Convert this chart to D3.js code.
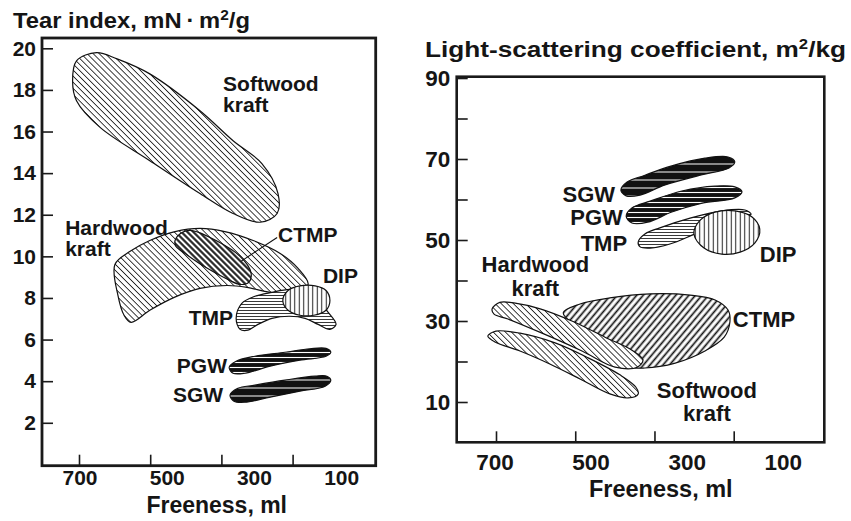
<!DOCTYPE html>
<html>
<head>
<meta charset="utf-8">
<script src="https://cdn.jsdelivr.net/npm/d3@7"></script>
<style>
  body { margin: 0; background: #fff; }
  text { font-family: "Liberation Sans", Arial, Helvetica, sans-serif; font-weight: bold; fill: #151515; }
</style>
</head>
<body>
<svg width="851" height="521"></svg>
<script>
// Axis ticks
const freenessTicks = [700, 500, 300, 100];
const tearTicks = [2, 4, 6, 8, 10, 12, 14, 16, 18, 20];
const scatterTicks = [10, 20, 30, 40, 50, 60, 70, 80, 90];
const scatterLabelled = [10, 30, 50, 70, 90];

// Left panel regions: [freeness ml, tear index mN·m2/g]
const tearSoftwood = [[662,19.79],[615,19.49],[540,18.77],[425,17.0],[349,15.56],[283,14.46],[246,13.02],[248,12.06],
  [287,11.64],[349,12.06],[425,13.02],[540,14.6],[654,16.2],[708,17.48],[717,18.44],[708,19.4]];
const tearHardwood = [[620,9.61],[585,10.24],[540,10.76],[482,11.19],[425,11.34],[368,11.19],[303,10.76],[241,10.14],
  [200,9.42],[177,8.65],[207,8.27],[264,8.27],[317,8.51],[363,8.60],[425,8.46],[484,8.03],[540,7.41],[583,6.83],[599,7.17],[613,8.12]];
const tearCTMP = [[482,10.76],[466,11.15],[443,11.24],[388,10.76],[333,10.0],[308,9.23],[313,8.75],[333,8.65],
  [361,8.89],[416,9.52],[466,10.24],[480,10.47]];
const tearCTMPLeader = [[248,10.91],[331,9.76]];
const tearTMP = [[342,7.02],[329,7.74],[299,8.08],[260,8.27],[219,8.41],[184,8.36],[154,7.88],[131,7.31],[113,6.73],
  [127,6.49],[154,6.73],[184,7.02],[219,7.12],[260,7.02],[292,6.73],[315,6.45],[333,6.49]];
const tearDIP = [[235,7.88],[223,8.36],[196,8.58],[161,8.58],[136,8.36],[127,7.88],[136,7.41],[164,7.17],[196,7.17],[223,7.41]];
const tearPGW = [[358,4.67],[342,4.96],[299,5.20],[230,5.39],[173,5.56],[136,5.58],[125,5.39],[136,5.20],[196,5.01],
  [264,4.72],[322,4.38],[349,4.38]];
const tearSGW = [[356,3.33],[338,3.66],[299,3.81],[230,4.05],[161,4.24],[134,4.24],[125,4.05],[138,3.76],[196,3.52],
  [264,3.23],[322,2.99],[347,3.04]];

// Right panel regions: [freeness ml, light-scattering m2/kg]
const scatSGW = [[438,62.3],[425,64.3],[388,66.0],[332,68.3],[263,70.2],[215,70.5],[201,69.3],[213,67.8],[273,66.0],
  [346,63.6],[398,61.1],[427,60.9]];
const scatPGW = [[427,55.9],[415,57.9],[377,59.6],[311,62.1],[242,63.3],[201,63.1],[186,61.9],[201,60.4],[269,59.1],
  [332,56.9],[382,54.4],[415,54.2]];
const scatTMP = [[402,49.5],[388,51.5],[357,53.0],[294,55.4],[228,57.2],[180,57.4],[167,56.4],[190,55.4],[273,52.0],
  [336,49.0],[377,48.0],[398,48.3]];
const scatDIP = [[286,51.5],[273,54.9],[242,56.9],[201,57.2],[165,55.7],[149,52.7],[159,49.3],[190,47.0],[228,46.5],[265,48.0]];
const scatCTMP = [[558,32.0],[523,34.2],[461,35.7],[377,36.7],[294,36.4],[242,35.2],[215,32.7],[211,29.8],[223,26.0],
  [263,22.6],[325,19.6],[388,18.4],[440,18.9],[481,22.8],[523,27.8]];
const scatHardwood = [[706,33.0],[690,34.6],[658,34.4],[606,33.0],[540,30.0],[471,26.0],[415,22.8],[392,20.4],[404,18.6],
  [450,18.6],[519,22.6],[602,27.0],[673,30.5],[702,31.7]];
const scatSoftwood = [[715,26.3],[698,27.5],[648,27.0],[575,24.6],[506,20.9],[440,16.7],[407,13.7],[402,12.0],[423,11.0],
  [461,12.0],[523,15.7],[586,19.4],[648,22.6],[700,24.8]];

// Region labels: [text lines, freeness, value, anchor]
const tearLabels = [
  [["Softwood", "kraft"], 372, 17.95, "start"],
  [["Hardwood", "kraft"], 734, 11.05, "start"],
  [["CTMP"], 246, 10.67, "start"],
  [["DIP"], 143, 8.70, "start"],
  [["TMP"], 349, 6.69, "end"],
  [["PGW"], 363, 4.40, "end"],
  [["SGW"], 372, 3.02, "end"]
];
const scatLabels = [
  [["SGW"], 450, 59.3, "end"],
  [["PGW"], 434, 53.6, "end"],
  [["TMP"], 425, 47.4, "end"],
  [["DIP"], 149, 44.6, "start"],
  [["Hardwood", "kraft"], 616, 42.0, "middle"],
  [["CTMP"], 205, 28.5, "start"],
  [["Softwood", "kraft"], 259, 11.1, "middle"]
];

const svg = d3.select("svg");
const defs = svg.append("defs");

function hatch(id, size, angle, sw, bg, fg) {
  const p = defs.append("pattern")
    .attr("id", id)
    .attr("patternUnits", "userSpaceOnUse")
    .attr("width", size).attr("height", size)
    .attr("patternTransform", `rotate(${angle})`);
  p.append("rect").attr("width", size).attr("height", size).attr("fill", bg);
  p.append("line")
    .attr("x1", size / 2).attr("x2", size / 2)
    .attr("y1", 0).attr("y2", size)
    .attr("stroke", fg).attr("stroke-width", sw);
}
hatch("back", 4.3, -45, 0.9, "#fff", "#222");     // "\" thin
hatch("backBold", 4.2, -45, 2.0, "#fff", "#111"); // "\" bold (CTMP left)
hatch("fwdBold", 5.0, 40, 1.7, "#fff", "#111");   // "/" bold (CTMP right)
hatch("horiz", 3.0, 90, 0.9, "#fff", "#222");
hatch("vert", 4.5, 0, 1.0, "#fff", "#222");
hatch("pgwFill", 5.0, 90, 1.1, "#111", "#fff");
hatch("sgwFill", 8.0, 90, 1.0, "#111", "#fff");

function panel(cfg) {
  const g = svg.append("g");
  const line = d3.line()
    .x(d => cfg.x(d[0]))
    .y(d => cfg.y(d[1]))
    .curve(d3.curveCatmullRomClosed.alpha(0.5));

  // regions
  cfg.regions.forEach(([pts, fill]) => {
    g.append("path")
      .datum(pts)
      .attr("d", line)
      .attr("fill", `url(#${fill})`)
      .attr("stroke", "#111")
      .attr("stroke-width", 1.2);
  });

  if (cfg.leader) {
    g.append("path")
      .datum(cfg.leader)
      .attr("d", d3.line().x(d => cfg.x(d[0])).y(d => cfg.y(d[1])))
      .attr("stroke", "#111").attr("stroke-width", 1.1).attr("fill", "none");
  }

  // region labels, one text per line
  cfg.labels.forEach(([lines, fx, v, anchor]) => {
    lines.forEach((s, i) => {
      g.append("text")
        .attr("x", cfg.x(fx))
        .attr("y", cfg.y(v) + i * cfg.lineGap)
        .attr("text-anchor", anchor)
        .style("font-size", cfg.labelSize + "px")
        .text(s);
    });
  });

  // frame
  g.append("rect")
    .attr("x", cfg.box[0]).attr("y", cfg.box[1])
    .attr("width", cfg.box[2] - cfg.box[0]).attr("height", cfg.box[3] - cfg.box[1])
    .attr("fill", "none").attr("stroke", "#1a1a1a").attr("stroke-width", cfg.frameWidth);

  // y axis, ticks pointing inward
  const ya = g.append("g")
    .attr("transform", `translate(${cfg.box[0]},0)`)
    .call(d3.axisLeft(cfg.y).tickValues(cfg.yTicks).tickSizeInner(-11).tickSizeOuter(0).tickPadding(cfg.yPad)
      .tickFormat(cfg.yFormat));
  ya.select(".domain").remove();
  ya.selectAll("line").attr("stroke", "#1a1a1a").attr("stroke-width", 1.6);
  ya.selectAll("text").style("font-size", cfg.tickSize + "px").attr("fill", "#151515");

  // x axis tick marks
  const xa = g.append("g")
    .attr("transform", `translate(0,${cfg.box[3]})`)
    .call(d3.axisBottom(cfg.xTick).tickValues(freenessTicks).tickSizeInner(-11).tickSizeOuter(0).tickFormat(""));
  xa.select(".domain").remove();
  xa.selectAll("line").attr("stroke", "#1a1a1a").attr("stroke-width", 1.6);

  // x tick labels
  g.selectAll(".xl")
    .data(freenessTicks)
    .join("text")
    .attr("x", d => cfg.x(d))
    .attr("y", cfg.xLabelY)
    .attr("text-anchor", "middle")
    .style("font-size", cfg.tickSize + "px")
    .text(d => d);

  g.append("text")
    .attr("x", cfg.xTitle[0]).attr("y", cfg.xTitle[1])
    .attr("text-anchor", "middle")
    .style("font-size", cfg.xTitleSize + "px")
    .text("Freeness, ml");

  // y title with superscript
  const yt = g.append("text")
    .attr("x", cfg.yTitle[0]).attr("y", cfg.yTitle[1])
    .attr("textLength", cfg.yTitle[2]).attr("lengthAdjust", "spacingAndGlyphs")
    .style("font-size", cfg.yTitleSize + "px");
  yt.append("tspan").text(cfg.yTitleText[0]);
  yt.append("tspan").attr("dy", -8).style("font-size", "14px").text("2");
  yt.append("tspan").attr("dy", 8).text(cfg.yTitleText[1]);
}

// Left: tear index
panel({
  box: [42, 38, 375.7, 465.7],
  frameWidth: 2.8,
  x: d3.scaleLinear().domain([700, 100]).range([80, 341.7]),
  xTick: d3.scaleLinear().domain([700, 100]).range([79, 292.6]),
  y: d3.scaleLinear().domain([0, 20]).range([464.4, 48.3]),
  yTicks: tearTicks,
  yFormat: d => d,
  yPad: 6,
  tickSize: 21,
  labelSize: 21,
  lineGap: 21,
  xLabelY: 485,
  xTitle: [216.7, 513],
  xTitleSize: 23,
  yTitle: [13, 28.3, 237],
  yTitleSize: 21.5,
  yTitleText: ["Tear index, mN\u2009\u00b7\u2009m", "/g"],
  regions: [
    [tearSoftwood, "back"], [tearHardwood, "back"], [tearCTMP, "backBold"],
    [tearTMP, "horiz"], [tearDIP, "vert"], [tearPGW, "pgwFill"], [tearSGW, "sgwFill"]
  ],
  leader: tearCTMPLeader,
  labels: tearLabels
});

// Right: light-scattering coefficient
panel({
  box: [456.7, 76.7, 824.3, 442.3],
  frameWidth: 2.6,
  x: d3.scaleLinear().domain([700, 100]).range([495, 783.3]),
  xTick: d3.scaleLinear().domain([700, 100]).range([496, 733.7]),
  y: d3.scaleLinear().domain([0, 90]).range([442.5, 78]),
  yTicks: scatterTicks,
  yFormat: d => scatterLabelled.includes(d) ? d : "",
  yPad: 6.5,
  tickSize: 22.5,
  labelSize: 22,
  lineGap: 23.7,
  xLabelY: 470,
  xTitle: [660.8, 497],
  xTitleSize: 23.5,
  yTitle: [425, 57.3, 421],
  yTitleSize: 22,
  yTitleText: ["Light-scattering coefficient, m", "/kg"],
  regions: [
    [scatCTMP, "fwdBold"], [scatSoftwood, "back"], [scatHardwood, "back"],
    [scatTMP, "horiz"], [scatDIP, "vert"], [scatPGW, "pgwFill"], [scatSGW, "sgwFill"]
  ],
  labels: scatLabels
});
</script>
</body>
</html>
